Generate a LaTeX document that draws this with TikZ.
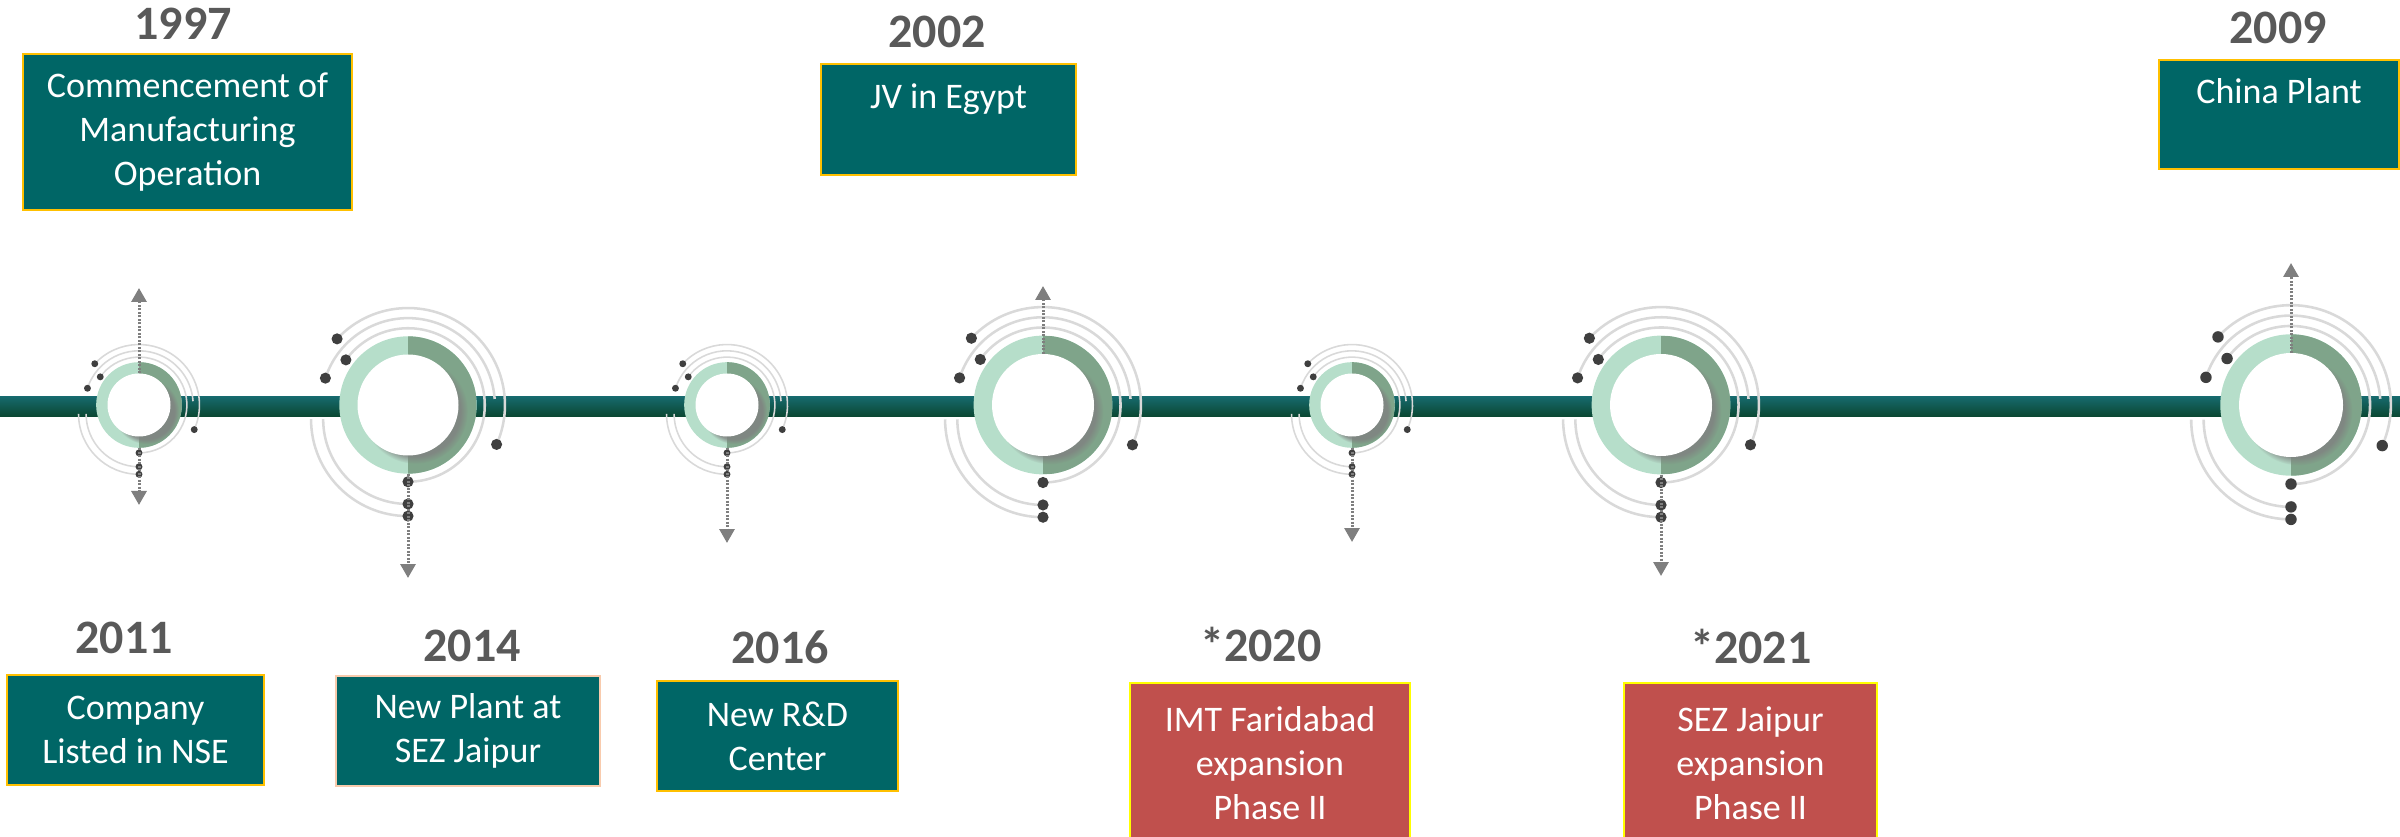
\documentclass[tikz,border=0pt]{standalone}
\usepackage{fontspec}
\setmainfont{Carlito}
\usetikzlibrary{arrows.meta,shadows}

\definecolor{bartop}{HTML}{16696C}
\definecolor{barbottom}{HTML}{0A4630}
\definecolor{ringlight}{HTML}{B6DECA}
\definecolor{ringdark}{HTML}{7FA48A}
\definecolor{orbitgray}{HTML}{D9D9D9}
\definecolor{dotgray}{HTML}{3F3F3F}
\definecolor{arrowgray}{HTML}{7F7F7F}
\definecolor{yeargray}{HTML}{595959}
\definecolor{boxteal}{HTML}{006666}
\definecolor{boxred}{HTML}{C0504D}
\definecolor{edgegold}{HTML}{FFC000}
\definecolor{edgepeach}{HTML}{F8CBAD}
\definecolor{edgeyellow}{HTML}{FFFF00}

\begin{document}
\begin{tikzpicture}[x=1pt,y=1pt,
	ring/.style={circle,inner sep=0pt,minimum size=#1,fill=ringlight,
		path picture={\fill[ringdark] (path picture bounding box.north) rectangle (path picture bounding box.south east);}},
	hole/.style={circle,inner sep=0pt,minimum size=#1,fill=white,
		circular drop shadow={shadow xshift=7pt,shadow yshift=-6pt,opacity=.8,shadow scale=1.04}},
	orbit/.style={draw=orbitgray,line width=#1},
	dot/.style={fill=dotgray},
	pointer/.style={draw=arrowgray,line width=3pt,dash pattern=on 2pt off 1.5pt,
		-{Triangle[width=15pt,length=14pt,fill=arrowgray]}},
	year/.style={text=yeargray,inner sep=0pt,font=\fontsize{48}{48}\selectfont\bfseries},
	card/.style={draw=edgegold,line width=2pt,fill=boxteal,text=white,align=center,inner sep=0pt,
		font=\fontsize{36}{44}\selectfont},
	redcard/.style={card,draw=edgeyellow,fill=boxred}]

	\useasboundingbox (0,0) rectangle (2400,836);

	% timeline bar
	\shade[top color=bartop,bottom color=barbottom] (0,419) rectangle (2400,439);

	% milestones
	\foreach \n/\x/\s in {1/139/0.63,2/408/1.01,3/727/0.63,4/1043/1.02,5/1352/0.63,6/1661/1.02,7/2291/1.04}{
		\begin{scope}[shift={(\x,431)},scale=\s]
			\draw[orbit=\s*2.5pt] (137:96) arc[start angle=137,end angle=-24,radius=96];
			\draw[orbit=\s*2.5pt] (162:86) arc[start angle=162,end angle=4,radius=86];
			\draw[orbit=\s*2.5pt] (144:76) arc[start angle=144,end angle=-90,radius=76];
			\draw[orbit=\s*2.5pt] (-96,-14) arc[start angle=180,end angle=270,radius=96];
			\draw[orbit=\s*2.5pt] (-84,-14) arc[start angle=180,end angle=270,radius=84];
		\end{scope}
		\node[ring=136*\s] (m\n) at (\x,431) {};
		\node[hole=100*\s] (h\n) at (m\n) {};
		\begin{scope}[shift={(\x,431)},scale=\s]
			\fill[dot] (137:96) circle[radius=5.5];
			\fill[dot] (144:76) circle[radius=5.5];
			\fill[dot] (162:86) circle[radius=5.5];
			\fill[dot] (-24:96) circle[radius=5.5];
			\fill[dot] (0,-76) circle[radius=5.5];
			\fill[dot] (0,-98) circle[radius=5.5];
			\fill[dot] (0,-110) circle[radius=5.5];
		\end{scope}
	}

	\coordinate (up1) at (139,548);
	\coordinate (up4) at (1043,550);
	\coordinate (up7) at (2291,573);
	\coordinate (dn1) at (139,331);
	\coordinate (dn2) at (408,258);
	\coordinate (dn3) at (727,293);
	\coordinate (dn5) at (1352,294);
	\coordinate (dn6) at (1661,260);

	\draw[pointer] (h1.north) -- (up1);
	\draw[pointer] (h4.north) -- (up4);
	\draw[pointer] (h7.north) -- (up7);
	\draw[pointer] (m1.south) -- (dn1);
	\draw[pointer] (m2.south) -- (dn2);
	\draw[pointer] (m3.south) -- (dn3);
	\draw[pointer] (m5.south) -- (dn5);
	\draw[pointer] (m6.south) -- (dn6);

	% top row
	\node[year] (y1997) at (183,812) {1997};
	\node[card,minimum width=329,minimum height=156] (c1997) at (187.5,704) {Commencement of\\Manufacturing\\Operation};
	\node[year] (y2002) at (937,804) {2002};
	\node[card,anchor=north,minimum width=255,text height=45,text depth=66] (c2002) at (948.5,773) {JV in Egypt};
	\node[year] (y2009) at (2278,808) {2009};
	\node[card,anchor=north,minimum width=240,text height=44,text depth=65] (c2009) at (2279,777) {China Plant};

	% bottom row
	\node[year] (y2011) at (124,198) {2011};
	\node[card,minimum width=257,minimum height=110] (c2011) at (135.5,106) {Company\\Listed in NSE};
	\node[year] (y2014) at (472,190) {2014};
	\node[card,draw=edgepeach,minimum width=264,minimum height=110] (c2014) at (468,105) {New Plant at\\SEZ Jaipur};
	\node[year] (y2016) at (780,189) {2016};
	\node[card,minimum width=241,minimum height=110] (c2016) at (777.5,100) {New R\&D\\Center};
	\node[year] (y2020) at (1261,192) {*2020};
	\node[redcard,minimum width=280,minimum height=160] (c2020) at (1270,73) {IMT Faridabad\\expansion\\Phase II};
	\node[year] (y2021) at (1751,190) {*2021};
	\node[redcard,minimum width=253,minimum height=160] (c2021) at (1750.5,73) {SEZ Jaipur\\expansion\\Phase II};
\end{tikzpicture}
\end{document}
